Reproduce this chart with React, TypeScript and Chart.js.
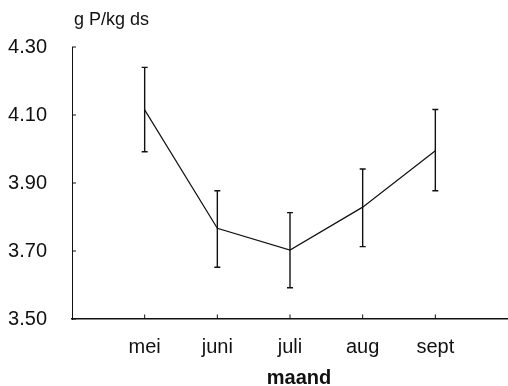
import { useEffect, useRef } from "react";
import { Chart, registerables } from "chart.js";
Chart.register(...registerables);

const months = ["mei", "juni", "juli", "aug", "sept"];
const means = [4.115, 3.767, 3.703, 3.829, 3.995];
const errUpper = [4.24, 3.877, 3.813, 3.941, 4.116];
const errLower = [3.992, 3.652, 3.592, 3.713, 3.877];
const yTickValues = [3.5, 3.7, 3.9, 4.1, 4.3];
const yTickLabels = ["3.50", "3.70", "3.90", "4.10", "4.30"];
const yUnit = "g P/kg ds";
const xTitle = "maand";

const FONT = "'Liberation Sans', Arial, Helvetica, sans-serif";

const decorPlugin = {
  id: "decor",
  afterDatasetsDraw(chart: any) {
    const ctx = chart.ctx as CanvasRenderingContext2D;
    const xs = chart.scales.x;
    const ys = chart.scales.y;
    const area = chart.chartArea;
    ctx.save();
    ctx.strokeStyle = "#111";
    // error bars
    ctx.lineWidth = 1.4;
    for (let i = 0; i < means.length; i++) {
      const px = xs.getPixelForValue(i + 1);
      const pt = ys.getPixelForValue(errUpper[i]);
      const pb = ys.getPixelForValue(errLower[i]);
      ctx.beginPath();
      ctx.moveTo(px, pt);
      ctx.lineTo(px, pb);
      ctx.moveTo(px - 3, pt);
      ctx.lineTo(px + 3, pt);
      ctx.moveTo(px - 3, pb);
      ctx.lineTo(px + 3, pb);
      ctx.stroke();
    }
    // inward ticks
    ctx.lineWidth = 1;
    for (const v of yTickValues) {
      const py = ys.getPixelForValue(v);
      ctx.beginPath();
      ctx.moveTo(area.left, py);
      ctx.lineTo(area.left + 4, py);
      ctx.stroke();
    }
    for (let i = 0; i < months.length; i++) {
      const px = xs.getPixelForValue(i + 1);
      ctx.beginPath();
      ctx.moveTo(px, area.bottom);
      ctx.lineTo(px, area.bottom - 4.5);
      ctx.stroke();
    }
    // texts
    ctx.fillStyle = "#111";
    ctx.textAlign = "left";
    ctx.textBaseline = "alphabetic";
    ctx.font = `18px ${FONT}`;
    ctx.fillText(yUnit, area.left + 2, 25);
    ctx.textAlign = "center";
    ctx.font = `bold 20px ${FONT}`;
    ctx.fillText(xTitle, (area.left + area.right) / 2 + 9, 384);
    ctx.restore();
  },
};

export default function App() {
  const ref = useRef<HTMLCanvasElement | null>(null);
  useEffect(() => {
    document.body.style.margin = "0";
    if (!ref.current) return;
    const chart = new Chart(ref.current, {
      type: "line",
      data: {
        datasets: [
          {
            data: means.map((m, i) => ({ x: i + 1, y: m })),
            borderColor: "#111",
            borderWidth: 1.2,
            pointRadius: 0,
            tension: 0,
            fill: false,
          },
        ],
      },
      options: {
        animation: false,
        responsive: false,
        devicePixelRatio: 1,
        layout: { padding: { top: 47, left: 0, right: 0, bottom: 0 } },
        plugins: { legend: { display: false }, tooltip: { enabled: false }, title: { display: false } },
        scales: {
          x: {
            type: "linear",
            min: 0,
            max: 6,
            grid: { display: false },
            border: { display: true, color: "#111", width: 1.4 },
            afterBuildTicks: (s: any) => {
              s.ticks = months.map((_, i) => ({ value: i + 1 }));
            },
            afterFit: (s: any) => {
              s.height = 67;
            },
            ticks: {
              color: "#111",
              font: { family: FONT, size: 20 },
              padding: 8,
              maxRotation: 0,
              autoSkip: false,
              callback: (_v: any, i: number) => months[i],
            },
          },
          y: {
            type: "linear",
            min: 3.5,
            max: 4.3,
            grid: { display: false },
            border: { display: true, color: "#111", width: 1 },
            afterBuildTicks: (s: any) => {
              s.ticks = yTickValues.map((v) => ({ value: v }));
            },
            afterFit: (s: any) => {
              s.width = 72;
            },
            ticks: {
              color: "#111",
              font: { family: FONT, size: 20 },
              padding: 17,
              callback: (_v: any, i: number) => yTickLabels[i],
            },
          },
        },
      },
      plugins: [decorPlugin],
    } as any);
    return () => chart.destroy();
  }, []);
  return (
    <div style={{ width: 508, height: 386 }}>
      <canvas ref={ref} width={508} height={386} />
    </div>
  );
}
